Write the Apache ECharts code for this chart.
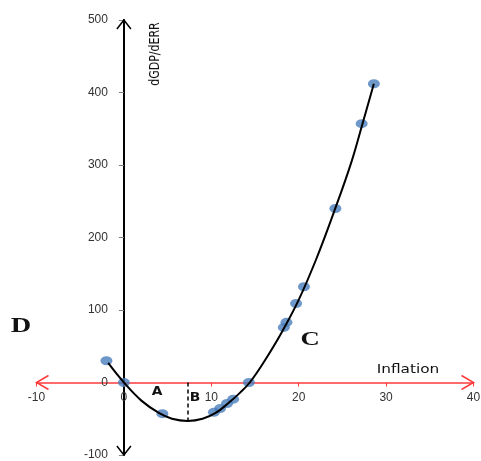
<!DOCTYPE html>
<html>
<head>
<meta charset="utf-8">
<script src="https://cdn.jsdelivr.net/npm/echarts@6/dist/echarts.min.js"></script>
<style>
  html, body { margin: 0; padding: 0; background: #fff; overflow: hidden; }
  #chart { width: 481px; height: 461px; }
</style>
</head>
<body>
<div id="chart"></div>
<script>
// observed points (blue dots)
const obsX = [-2, 0, 4.4, 10.3, 11, 11.8, 12.5, 14.3, 18.3, 18.6, 19.7, 20.6, 24.2, 27.2, 28.6];
const obsY = [30, 0, -43, -41, -36, -29, -23, 0, 76, 83, 109, 132, 240, 357, 412];

// fitted curve
const curveX = [-1.8, 0, 2, 4, 5.5, 7.3, 9, 10.5, 12, 13.3, 14.4, 16, 18, 20, 22, 24, 26, 27.3, 28.6];
const curveY = [27, 0, -25, -42, -50, -53, -50, -42, -28, -14, 0, 28, 68, 114, 170, 234, 303, 357, 412];

// axis ranges / ticks
const xTicks = [-10, 0, 10, 20, 30, 40];
const yTicks = [-100, 0, 100, 200, 300, 400, 500];
const minX = 7.3; // dashed line down to the bottom of the curve

const W = 481, H = 461;
const gridL = 36.5, gridR = 7.5, gridT = 20, gridB = 6;
const xMin = xTicks[0], xMax = xTicks[xTicks.length - 1];
const yMin = yTicks[0], yMax = yTicks[yTicks.length - 1];
// axes cross at zero: shift each axis inwards from the grid edge
const yAxisShift = (W - gridL - gridR) * (0 - xMin) / (xMax - xMin);
const xAxisShift = (H - gridT - gridB) * (0 - yMin) / (yMax - yMin);

const chart = echarts.init(document.getElementById('chart'));
const sans = 'DejaVu Sans, Verdana, sans-serif';
const labelFont = { color: '#333', fontSize: 12, fontFamily: 'Liberation Sans, Arial, sans-serif' };

chart.setOption({
  animation: false,
  grid: { left: gridL, right: gridR, top: gridT, bottom: gridB, outerBoundsMode: 'none', containLabel: false },
  xAxis: {
    type: 'value', position: 'bottom', offset: -xAxisShift,
    min: xMin, max: xMax, interval: 10,
    axisLine: { onZero: false, lineStyle: { color: '#ff3b3b', width: 1.5 } },
    axisTick: { show: true, length: 4, lineStyle: { color: '#ff3b3b' } },
    axisLabel: Object.assign({ margin: 9 }, labelFont),
    splitLine: { show: false }
  },
  yAxis: {
    type: 'value', position: 'left', offset: -yAxisShift,
    min: yMin, max: yMax, interval: 100,
    axisLine: { onZero: false, lineStyle: { color: '#000', width: 2 } },
    axisTick: { show: true, length: 5, lineStyle: { color: '#808080' } },
    axisLabel: Object.assign({ margin: 16 }, labelFont),
    splitLine: { show: false }
  },
  series: [
    {
      type: 'scatter',
      data: obsX.map((x, i) => [x, obsY[i]]),
      symbol: 'circle',
      symbolSize: [12, 9],
      itemStyle: { color: '#4a7ebb' },
      z: 2
    },
    {
      type: 'line',
      data: curveX.map((x, i) => [x, curveY[i]]),
      smooth: 0.4,
      showSymbol: false,
      lineStyle: { color: '#000', width: 2 },
      z: 3,
      markLine: {
        silent: true,
        symbol: 'none',
        label: { show: false },
        lineStyle: { color: '#000', type: [4, 3], width: 1.5 },
        data: [[{ coord: [minX, 0] }, { coord: [minX, -53] }]]
      }
    }
  ]
});

// open arrow heads at the axis ends
const px = p => chart.convertToPixel({ gridIndex: 0 }, p);
function chevron(tip, dx, dy, color) {
  return {
    type: 'polyline',
    shape: { points: [[tip[0] + dx[0], tip[1] + dy[0]], tip, [tip[0] + dx[1], tip[1] + dy[1]]] },
    style: { stroke: color, lineWidth: 1.5, fill: null },
    z: 20
  };
}
function note(text, x, y, font, sx, extra) {
  return Object.assign({
    type: 'text', x: x, y: y, scaleX: sx,
    style: { text: text, fill: '#111', font: font, align: 'center', verticalAlign: 'middle' },
    z: 20
  }, extra || {});
}
const xl = px([xMin, 0]), xr = px([xMax, 0]);
const yt = px([0, yMax]), yb = px([0, yMin]);

const serif = 'Liberation Serif, DejaVu Serif, serif';
chart.setOption({
  graphic: [
    chevron(xl, [12, 12], [-7, 7], '#ff3b3b'),
    chevron(xr, [-12, -12], [-7, 7], '#ff3b3b'),
    chevron(yt, [-7, 7], [9, 9], '#000'),
    chevron(yb, [-7, 7], [-9, -9], '#000'),
    note('Inflation', 408, 370, '13px ' + sans, 1.18),
    note('dGDP/dERR', 156, 54, '11px ' + sans, 1, { rotation: Math.PI / 2, scaleY: 1.2 }),
    note('D', 21, 327, 'bold 21px ' + serif, 1.35),
    note('C', 310, 340, 'bold 19px ' + serif, 1.4),
    note('A', 157, 392, 'bold 12px ' + sans, 1.15),
    note('B', 195, 398, 'bold 12px ' + sans, 1.15)
  ]
});
</script>
</body>
</html>
